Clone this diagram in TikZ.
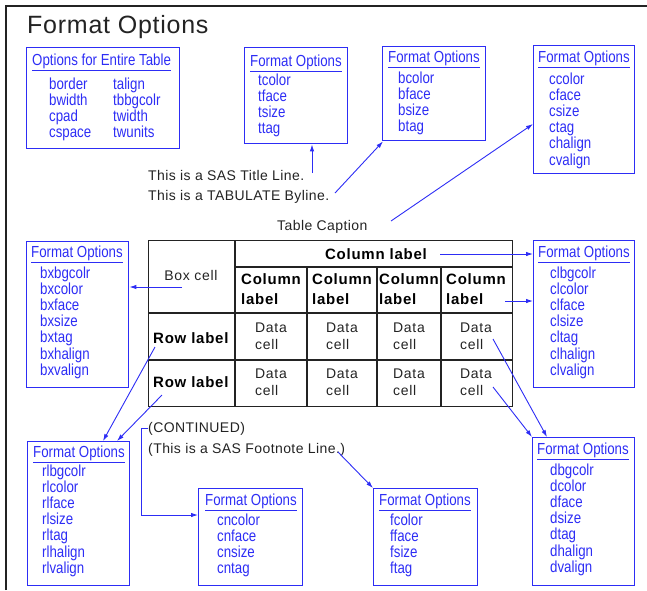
\documentclass[tikz,border=0pt]{standalone}
\usepackage{fontspec}
\setmainfont{Liberation Sans}
\newfontfamily\bluefont[FakeStretch=0.83]{Liberation Sans}
\newfontfamily\grayfont[LetterSpace=3]{Liberation Sans}
\newfontfamily\tabfont[LetterSpace=5]{Liberation Sans}
\usetikzlibrary{arrows.meta}
\definecolor{sasblue}{RGB}{45,45,245}
\definecolor{sasgray}{RGB}{35,35,35}
\begin{document}
\begin{tikzpicture}[x=1pt,y=-1pt,
  optbox/.style={draw=sasblue, line width=1.4pt, anchor=north west, inner sep=0pt},
  hdr/.style={anchor=base west, inner sep=0pt, text=sasblue, font=\bluefont\fontsize{16}{16}\selectfont},
  items/.style={anchor=base west, inner sep=0pt, text=sasblue, align=left, font=\bluefont\fontsize{16}{16.2}\selectfont},
  conn/.style={draw=sasblue, line width=0.9pt, -{Latex[length=7pt,width=4.5pt]}},
  gtext/.style={anchor=base west, inner sep=0pt, text=sasgray, font=\grayfont\fontsize{14}{17}\selectfont},
  tline/.style={draw=sasgray, line width=1.3pt},
  headlbl/.style={anchor=base, inner sep=0pt, text=black, align=left, font=\tabfont\bfseries\fontsize{15}{20}\selectfont},
  rowlbl/.style={anchor=base west, inner sep=0pt, text=black, font=\tabfont\bfseries\fontsize{15}{20}\selectfont},
  datalbl/.style={anchor=base, inner sep=0pt, text=sasgray, align=left, font=\tabfont\fontsize{14}{17.5}\selectfont}
]
\useasboundingbox (0,0) rectangle (647,590);
% frame
\draw[line width=2pt, sasgray] (6,590) -- (6,6) -- (647,6);
\node[anchor=base west, inner sep=0pt, text=sasgray, font=\grayfont\fontsize{25}{25}\selectfont] (title) at (27,33) {Format Options};

% ---- option boxes (item nodes are placed by the baseline of their last line) ----
\node[optbox, minimum width=153pt, minimum height=101pt] (entire) at (26,47) {};
\node[hdr] (entireh) at (32,65) {\underline{Options for Entire Table}};
\node[items] (entirea) at (49,137.6) {border\\bwidth\\cpad\\cspace};
\node[items] (entireb) at (113,137.6) {talign\\tbbgcolr\\twidth\\twunits};

\node[optbox, minimum width=103pt, minimum height=96pt] (tbox) at (244,47) {};
\node[hdr] (tboxh) at (250,66) {\underline{Format Options}};
\node[items] (tboxi) at (258,133.6) {tcolor\\tface\\tsize\\ttag};

\node[optbox, minimum width=103pt, minimum height=94pt] (bbox) at (382,46) {};
\node[hdr] (bboxh) at (388,62) {\underline{Format Options}};
\node[items] (bboxi) at (398,131.6) {bcolor\\bface\\bsize\\btag};

\node[optbox, minimum width=101pt, minimum height=128pt] (cbox) at (533,45) {};
\node[hdr] (cboxh) at (538,62) {\underline{Format Options}};
\node[items] (cboxi) at (549,165) {ccolor\\cface\\csize\\ctag\\chalign\\cvalign};

\node[optbox, minimum width=102pt, minimum height=146pt] (bxbox) at (26,241) {};
\node[hdr] (bxboxh) at (31,257) {\underline{Format Options}};
\node[items] (bxboxi) at (40,375.2) {bxbgcolr\\bxcolor\\bxface\\bxsize\\bxtag\\bxhalign\\bxvalign};

\node[optbox, minimum width=101pt, minimum height=147pt] (clbox) at (533,240) {};
\node[hdr] (clboxh) at (538,257) {\underline{Format Options}};
\node[items] (clboxi) at (550,375.2) {clbgcolr\\clcolor\\clface\\clsize\\cltag\\clhalign\\clvalign};

\node[optbox, minimum width=102pt, minimum height=144pt] (rlbox) at (27,441) {};
\node[hdr] (rlboxh) at (33,457) {\underline{Format Options}};
\node[items] (rlboxi) at (42,573.2) {rlbgcolr\\rlcolor\\rlface\\rlsize\\rltag\\rlhalign\\rlvalign};

\node[optbox, minimum width=104pt, minimum height=97pt] (cnbox) at (198,488) {};
\node[hdr] (cnboxh) at (205,505) {\underline{Format Options}};
\node[items] (cnboxi) at (217,573.6) {cncolor\\cnface\\cnsize\\cntag};

\node[optbox, minimum width=104pt, minimum height=97pt] (fbox) at (373,488) {};
\node[hdr] (fboxh) at (379,505) {\underline{Format Options}};
\node[items] (fboxi) at (390,573.6) {fcolor\\fface\\fsize\\ftag};

\node[optbox, minimum width=102pt, minimum height=148pt] (dbox) at (532,437) {};
\node[hdr] (dboxh) at (537,454) {\underline{Format Options}};
\node[items] (dboxi) at (550,572.2) {dbgcolr\\dcolor\\dface\\dsize\\dtag\\dhalign\\dvalign};

% ---- gray texts ----
\node[gtext] (titleline) at (148,180) {This is a SAS Title Line.};
\node[gtext] (byline) at (148,200) {This is a TABULATE Byline.};
\node[gtext] (caption) at (277,230) {Table Caption};
\node[gtext] (cont) at (148,432) {(CONTINUED)};
\node[gtext] (footnote) at (148,453) {(This is a SAS Footnote Line.)};

% ---- table ----
\node[draw=sasgray, line width=1.3pt, anchor=north west, inner sep=0pt, minimum width=364pt, minimum height=166pt] (tab) at (148,240) {};
\draw[tline] (235,240) -- (235,406);
\draw[tline] (235,267) -- (512,267);
\draw[tline] (148,313) -- (512,313);
\draw[tline] (148,360) -- (512,360);
\draw[tline] (307,267) -- (307,406);
\draw[tline] (377,267) -- (377,406);
\draw[tline] (441,267) -- (441,406);

\node[datalbl] (boxcell) at (191,280) {Box cell};
\node[headlbl] (spanlbl) at (376,259) {Column label};
\node[headlbl] (cl1) at (271,304) {Column\\label};
\node[headlbl] (cl2) at (342,304) {Column\\label};
\node[headlbl] (cl3) at (409,304) {Column\\label};
\node[headlbl] (cl4) at (476,304) {Column\\label};
\node[rowlbl] (rl1) at (153,343) {Row label};
\node[rowlbl] (rl2) at (153,387) {Row label};
\node[datalbl] (d11) at (271,349.5) {Data\\cell};
\node[datalbl] (d12) at (342,349.5) {Data\\cell};
\node[datalbl] (d13) at (409,349.5) {Data\\cell};
\node[datalbl] (d14) at (476,349.5) {Data\\cell};
\node[datalbl] (d21) at (271,395.5) {Data\\cell};
\node[datalbl] (d22) at (342,395.5) {Data\\cell};
\node[datalbl] (d23) at (409,395.5) {Data\\cell};
\node[datalbl] (d24) at (476,395.5) {Data\\cell};

% ---- connector free ends ----
\coordinate (tstart) at (312,173);
\coordinate (bstart) at (335,193);
\coordinate (capstart) at (391,221);
\coordinate (bxstart) at (182,287);
\coordinate (clstart1) at (440,254);
\coordinate (clstart2) at (505,301);
\coordinate (dstart1) at (493,339);
\coordinate (dstart2) at (493,387);
\coordinate (rstart1) at (155,347);
\coordinate (rstart2) at (162,395);
\coordinate (fstart) at (338,452);

\draw[conn] (tstart) -- (tstart |- tbox.south);
\draw[conn] (bstart) -- ([xshift=1pt]bbox.south west);
\draw[conn] (capstart) -- (cbox.west |- 0,124);
\draw[conn] (bxstart) -- (bxbox.east |- bxstart);
\draw[conn] (clstart1) -- (clbox.west |- clstart1);
\draw[conn] (clstart2) -- (clbox.west |- clstart2);
\draw[conn] (dstart1) -- ([xshift=15pt]dbox.north west);
\draw[conn] (dstart2) -- (dbox.north west);
\draw[conn] (rstart1) -- ([xshift=76pt]rlbox.north west);
\draw[conn] (rstart2) -- ([xshift=90pt]rlbox.north west);
\draw[conn] (fstart) -- (fbox.north west);
\draw[conn] (cont.west) -- ++(-7,0) |- (cnbox.west |- 0,515);
\end{tikzpicture}
\end{document}
